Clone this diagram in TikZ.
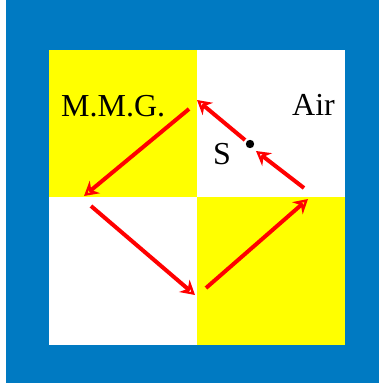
\documentclass[tikz,border=0pt]{standalone}
\usepackage{fontspec}
\setmainfont{Liberation Serif}
\usetikzlibrary{arrows.meta}
\definecolor{frameblue}{RGB}{0,122,194}
\definecolor{pureyellow}{RGB}{255,255,0}
\definecolor{purered}{RGB}{255,0,0}
\tikzset{
  redarrow/.style={draw=purered, line width=4pt, -{Stealth[open, length=14pt, width=16pt, line width=2.5pt]}},
  lbl/.style={font=\fontsize{32}{36}\selectfont, inner sep=0pt, anchor=base west}
}
\begin{document}
\begin{tikzpicture}[x=1pt,y=-1pt]
\useasboundingbox (0,0) rectangle (379,383);
\fill[white] (0,0) rectangle (379,383);
\fill[frameblue] (6,0) rectangle (379,383);
\fill[white] (49,50) rectangle (345,345);
\fill[pureyellow] (49,50) rectangle (197,197);
\fill[pureyellow] (197,197) rectangle (345,345);
\node[lbl] (mmg) at (61,116) {M.M.G.};
\node[lbl] (air) at (292,115) {Air};
\node[lbl] (s) at (213,164) {S};
\fill[black] (250,144) circle (4.2);
\coordinate (a1s) at (189,109);
\coordinate (a1e) at (84,196);
\coordinate (a2s) at (91,206);
\coordinate (a2e) at (195,295);
\coordinate (a3s) at (206,288);
\coordinate (a3e) at (308,199);
\coordinate (a4s) at (304,188);
\coordinate (a4e) at (256,151);
\coordinate (a5s) at (245,140);
\coordinate (a5e) at (197,100);
\draw[redarrow] (a1s) -- (a1e);
\draw[redarrow] (a2s) -- (a2e);
\draw[redarrow] (a3s) -- (a3e);
\draw[redarrow] (a4s) -- (a4e);
\draw[redarrow] (a5s) -- (a5e);
\end{tikzpicture}
\end{document}
